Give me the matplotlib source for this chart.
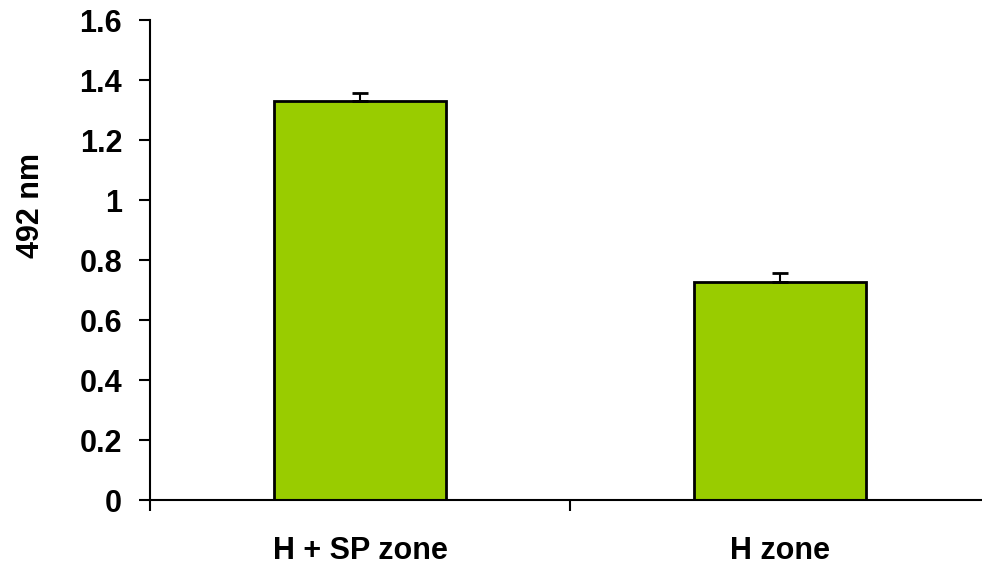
import matplotlib
matplotlib.use("Agg")
import matplotlib.pyplot as plt

# Data
categories = ["H + SP zone", "H zone"]
values = [1.33, 0.728]
errors = [0.027, 0.030]
yticks = [0, 0.2, 0.4, 0.6, 0.8, 1, 1.2, 1.4, 1.6]
ytick_labels = ["0", "0.2", "0.4", "0.6", "0.8", "1", "1.2", "1.4", "1.6"]

plt.rcParams['font.family'] = ['Liberation Sans', 'DejaVu Sans']
plt.rcParams['font.weight'] = 'bold'

W, H = 982, 567
fig = plt.figure(figsize=(W / 100, H / 100), dpi=100)
ax = fig.add_axes([150 / W, 67 / H, 840 / W, 480 / H])

x = range(len(categories))
ax.bar(x, values, width=0.41, color="#99CC00", edgecolor="black", linewidth=2, zorder=2)
ax.errorbar(x, values, yerr=[[0, 0], errors], fmt="none", ecolor="black",
            elinewidth=1.5, capsize=5.8, capthick=2, zorder=3)

ax.set_xlim(-0.5, 1.5)
ax.set_ylim(0, 1.6)
ax.set_yticks(yticks)
ax.set_yticklabels(ytick_labels, fontsize=22, fontweight="bold")
ax.set_xticks([-0.5, 0.5, 1.5])
ax.set_xticklabels([])
ax.set_xticks(list(x), minor=True)
ax.set_xticklabels(categories, minor=True, fontsize=22, fontweight="bold")
ax.tick_params(axis="x", which="minor", length=0, pad=26)
ax.tick_params(axis="x", which="major", length=8, width=1.5, direction="out")
ax.tick_params(axis="y", length=8, width=1.5, direction="out", pad=12)

for s in ["top", "right"]:
    ax.spines[s].set_visible(False)
ax.spines["left"].set_linewidth(1.5)
ax.spines["bottom"].set_linewidth(1.5)

ax.set_ylabel("492 nm", fontsize=22, fontweight="bold", va="center")
ax.yaxis.set_label_coords(-119 / 840, (500 - 206) / 480)

fig.savefig("out.png", dpi=100)
